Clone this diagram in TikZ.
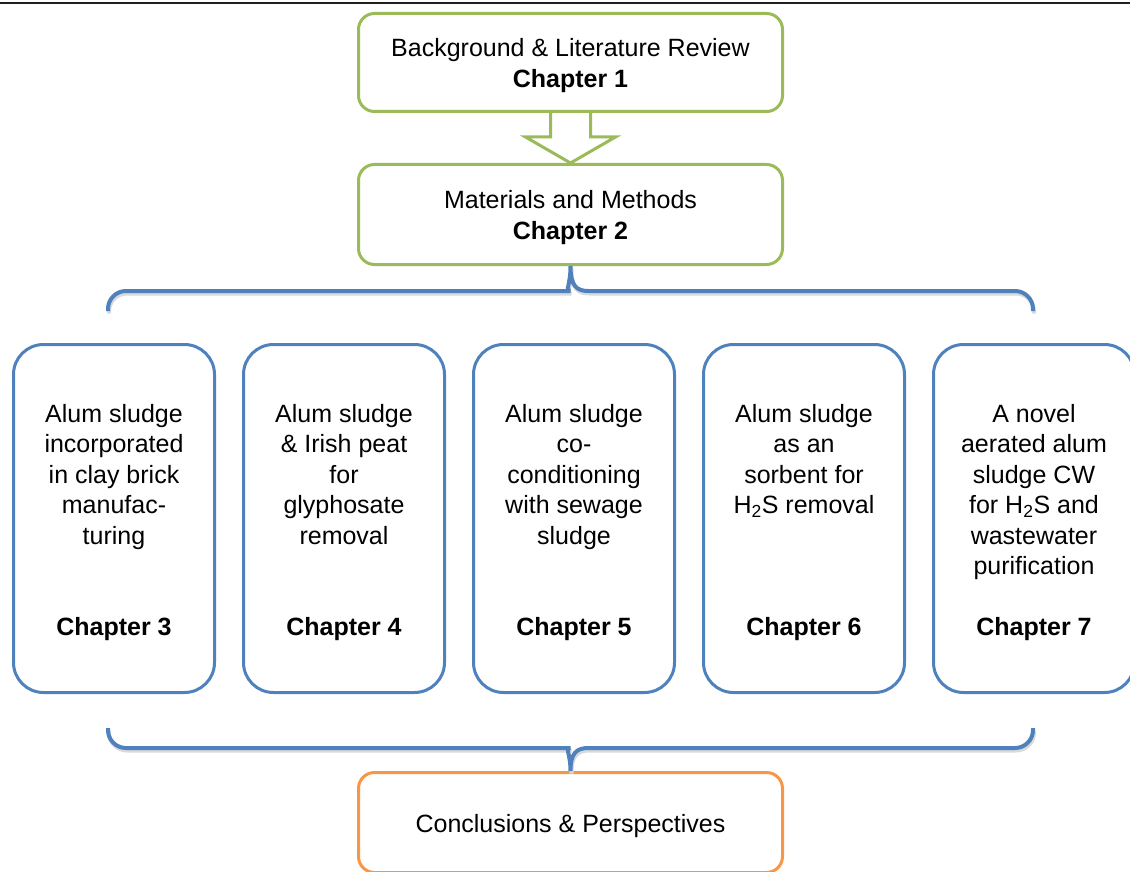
\documentclass[tikz,border=0pt]{standalone}
\usepackage{fontspec}
\setmainfont{Liberation Sans}
\usetikzlibrary{positioning, calc}
\definecolor{boxgreen}{HTML}{9BBB59}
\definecolor{boxblue}{HTML}{4F81BD}
\definecolor{boxorange}{HTML}{F79646}
\definecolor{rulegray}{HTML}{231F20}
\tikzset{
  every picture/.style={line width=3pt},
  every node/.style={font=\fontsize{25}{30.5}\selectfont},
  gbox/.style={draw=boxgreen, rounded corners=16pt, minimum width=424pt, minimum height=98pt, align=center},
  chbox/.style={draw=boxblue, rounded corners=30pt, minimum width=201pt, minimum height=348pt},
  obox/.style={draw=boxorange, rounded corners=16pt, minimum width=424pt, minimum height=100pt},
  desc/.style={align=center, anchor=base, inner sep=0pt},
  chno/.style={anchor=base, inner sep=0pt, font=\fontsize{25}{30.5}\selectfont\bfseries},
  brace/.style={draw=boxblue, line width=4pt, preaction={draw=black!15, line width=4pt, transform canvas={shift={(1pt,-2.5pt)}}}},
  hollow/.style={draw=boxgreen, line width=3pt, line join=miter}
}

\begin{document}
\begin{tikzpicture}[x=1pt, y=-1pt]
    \useasboundingbox (0,0) rectangle (1130,872);
    \draw [rulegray, line width=2.3pt] (0,2.8) -- (1130,2.8);

    \node [gbox] (c1) at (570.5,62.5) {\rule{0pt}{24pt}Background \& Literature Review\\\textbf{Chapter 1}};
    \node [gbox, minimum height=100pt, below=50pt of c1] (c2) {\rule{0pt}{24pt}Materials and Methods\\\textbf{Chapter 2}};

    \node [chbox] (c3) at (114,518.5) {};
    \node [chbox, right=26pt of c3] (c4) {};
    \node [chbox, right=26pt of c4] (c5) {};
    \node [chbox, right=26pt of c5] (c6) {};
    \node [chbox, right=26pt of c6] (c7) {};

    \node [obox] (c8) at (570.5,822.5) {\rule{0pt}{26pt}Conclusions \& Perspectives};

    % chapter texts (base = last line)
    \node [desc] (t3) at ($(c3.north)+(0,201)$) {Alum sludge\\incorporated\\in clay brick\\manufac-\\turing};
    \node [desc] (t4) at ($(c4.north)+(0,201)$) {Alum sludge\\\& Irish peat\\for\\glyphosate\\removal};
    \node [desc] (t5) at ($(c5.north)+(0,201)$) {Alum sludge\\co-\\conditioning\\with sewage\\sludge};
    \node [desc] (t6) at ($(c6.north)+(0,170.5)$) {Alum sludge\\as an\\sorbent for\\H\textsubscript{2}S removal};
    \node [desc] (t7) at ($(c7.north)+(0,231.5)$) {A novel\\aerated alum\\sludge CW\\for H\textsubscript{2}S and\\wastewater\\purification};

    \node [chno] (n3) at ($(c3.south)+(0,-59)$) {Chapter 3};
    \node [chno] (n4) at ($(c4.south)+(0,-59)$) {Chapter 4};
    \node [chno] (n5) at ($(c5.south)+(0,-59)$) {Chapter 5};
    \node [chno] (n6) at ($(c6.south)+(0,-59)$) {Chapter 6};
    \node [chno] (n7) at ($(c7.south)+(0,-59)$) {Chapter 7};

    % hollow arrow
    \draw [hollow] ($(c1.south)+(-20,0)$) -- ($(c1.south)+(-20,24)$) -- ($(c1.south)+(-45,24)$) -- (c2.north)
      -- ($(c1.south)+(45,24)$) -- ($(c1.south)+(20,24)$) -- ($(c1.south)+(20,0)$);

    % braces
    \draw [brace] ($(c3.north)+(-6,-32)$) [rounded corners=18pt] |- ($(c2.south)+(-18,25)$) [sharp corners]
      .. controls ($(c2.south)+(-6,25)$) and ($(c2.south)+(0,20)$) .. (c2.south)
      .. controls ($(c2.south)+(0,20)$) and ($(c2.south)+(6,25)$) .. ($(c2.south)+(18,25)$)
      [rounded corners=18pt] -| ($(c7.north)+(-1,-32)$);
    \draw [brace] ($(c3.south)+(-6,34)$) [rounded corners=18pt] |- ($(c8.north)+(-18,-23)$) [sharp corners]
      .. controls ($(c8.north)+(-6,-23)$) and ($(c8.north)+(0,-18)$) .. (c8.north)
      .. controls ($(c8.north)+(0,-18)$) and ($(c8.north)+(6,-23)$) .. ($(c8.north)+(18,-23)$)
      [rounded corners=18pt] -| ($(c7.south)+(-1,34)$);
\end{tikzpicture}
\end{document}
